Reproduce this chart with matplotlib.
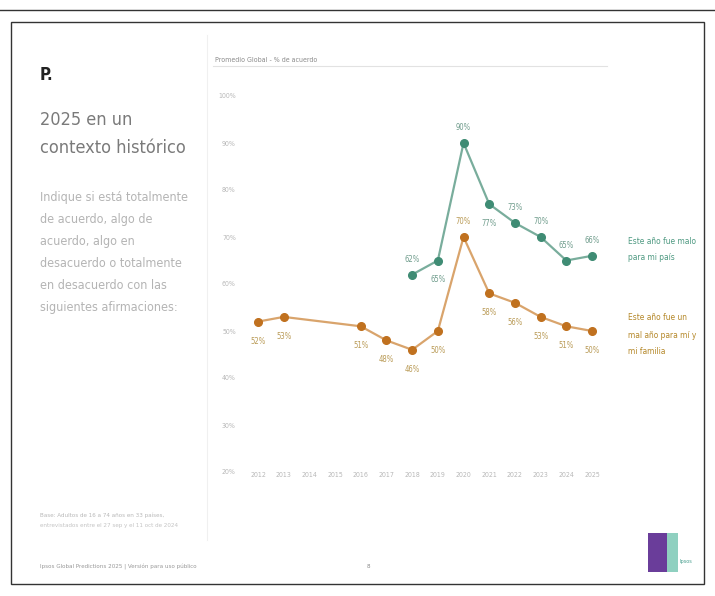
import matplotlib.pyplot as plt
from matplotlib.patches import Rectangle
from matplotlib.lines import Line2D

# data
years_family = [2012, 2013, 2016, 2017, 2018, 2019, 2020, 2021, 2022, 2023, 2024, 2025]
bad_family = [52, 53, 51, 48, 46, 50, 70, 58, 56, 53, 51, 50]
years_country = [2018, 2019, 2020, 2021, 2022, 2023, 2024, 2025]
bad_country = [62, 65, 90, 77, 73, 70, 65, 66]
country_below = [2019, 2021]
year_ticks = list(range(2012, 2026))
y_ticks = [20, 30, 40, 50, 60, 70, 80, 90, 100]

W, H = 715, 596
GREEN, GREEN_LINE, GREEN_TXT = '#3f8c74', '#79ad9c', '#6f9c8c'
ORANGE, ORANGE_LINE, ORANGE_TXT = '#c0711f', '#d9a46c', '#b99a55'
FONT = dict(family='DejaVu Sans', fontstretch='condensed')


def fx(x):
    return x / W


def fy(y):
    return 1 - y / H


fig = plt.figure(figsize=(W / 100, H / 100), dpi=100)

# slide frame
fig.add_artist(Line2D([0, 1], [fy(10), fy(10)], color='#333333', lw=1))
fig.add_artist(Rectangle((fx(11), fy(584)), fx(693), 562 / H, fill=False,
                         edgecolor='#333333', lw=1))
fig.add_artist(Line2D([fx(207), fx(207)], [fy(35), fy(540)], color='#f0f0f0', lw=0.8))

# left panel
fig.text(fx(40), fy(75), 'P.', fontsize=12, fontweight='bold', color='#222222',
         va='center', **FONT)
fig.text(fx(40), fy(120), '2025 en un', fontsize=13, color='#7a7a7a', va='center', **FONT)
fig.text(fx(40), fy(148), 'contexto histórico', fontsize=13, color='#7a7a7a',
         va='center', **FONT)
body = ['Indique si está totalmente', 'de acuerdo, algo de', 'acuerdo, algo en',
        'desacuerdo o totalmente', 'en desacuerdo con las', 'siguientes afirmaciones:']
for i, line in enumerate(body):
    fig.text(fx(40), fy(197 + i * 22.2), line, fontsize=9, color='#b4b4b4',
             va='center', **FONT)

fig.text(fx(40), fy(515), 'Base: Adultos de 16 a 74 años en 33 países,', fontsize=4.5,
         color='#b8b8b8', va='center', **FONT)
fig.text(fx(40), fy(526), 'entrevistados entre el 27 sep y el 11 oct de 2024', fontsize=4.5,
         color='#c4c4c4', va='center', **FONT)
fig.text(fx(40), fy(567), 'Ipsos Global Predictions 2025 | Versión para uso público',
         fontsize=4.5, color='#999999', va='center', **FONT)
fig.text(fx(368), fy(567), '8', fontsize=4.5, color='#888888', va='center', ha='center', **FONT)

# logo
fig.add_artist(Rectangle((fx(648), fy(572)), 19 / W, 39 / H, color='#6a3d9a', lw=0))
fig.add_artist(Rectangle((fx(667), fy(572)), 11 / W, 39 / H, color='#8fd0c0', lw=0))
fig.text(fx(679), fy(562), 'Ipsos', fontsize=4, color='#4aa090', va='center', **FONT)

# chart header
fig.text(fx(215), fy(60), 'Promedio Global - % de acuerdo', fontsize=5, color='#8a8a8a',
         va='center', **FONT)
fig.add_artist(Line2D([fx(213), fx(607)], [fy(66), fy(66)], color='#e2e2e2', lw=0.8))

# chart area
px_per_year = (592 - 258) / 13
x0, x1 = 2011.3, 2025.6
left = 258 - (2012 - x0) * px_per_year
right = 592 + (x1 - 2025) * px_per_year
top, bottom = 96, 472
ax = fig.add_axes([fx(left), fy(bottom), (right - left) / W, (bottom - top) / H])
ax.set_xlim(x0, x1)
ax.set_ylim(20, 100)
for s in ax.spines.values():
    s.set_visible(False)
ax.set_xticks(year_ticks)
ax.set_xticklabels([str(y) for y in year_ticks])
ax.set_yticks(y_ticks)
ax.set_yticklabels([f'{v}%' for v in y_ticks])
ax.tick_params(length=0, labelsize=5, labelcolor='#b8b8b8')
ax.tick_params(axis='x', pad=0)
ax.tick_params(axis='y', pad=3)
for lab in ax.get_xticklabels() + ax.get_yticklabels():
    lab.set_fontstretch('condensed')

ax.plot(years_country, bad_country, color=GREEN_LINE, lw=1.6, zorder=2)
ax.plot(years_country, bad_country, 'o', color=GREEN, ms=5.5, zorder=3)
ax.plot(years_family, bad_family, color=ORANGE_LINE, lw=1.6, zorder=2)
ax.plot(years_family, bad_family, 'o', color=ORANGE, ms=5.5, zorder=3)

for x, v in zip(years_country, bad_country):
    dy = -14 if x in country_below else 11
    ax.annotate(f'{v}%', (x, v), xytext=(0, dy), textcoords='offset points',
                ha='center', va='center', fontsize=5.5, color=GREEN_TXT, **FONT)
for x, v in zip(years_family, bad_family):
    dy = 11 if v == max(bad_family) else -14
    ax.annotate(f'{v}%', (x, v), xytext=(0, dy), textcoords='offset points',
                ha='center', va='center', fontsize=5.5, color=ORANGE_TXT, **FONT)

# series labels on the right
for i, line in enumerate(['Este año fue malo', 'para mi país']):
    fig.text(fx(628), fy(242 + i * 15), line, fontsize=6, color='#4f9a82',
             va='center', **FONT)
for i, line in enumerate(['Este año fue un', 'mal año para mí y', 'mi familia']):
    fig.text(fx(628), fy(318 + i * 17), line, fontsize=6, color='#b5882a',
             va='center', **FONT)

fig.savefig('out.png', dpi=100, facecolor='white')
